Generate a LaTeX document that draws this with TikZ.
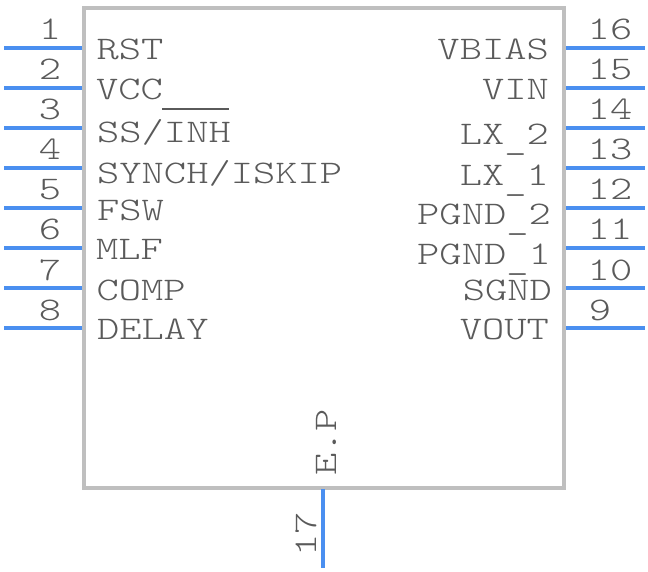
\documentclass[tikz,border=0pt]{standalone}
\usepackage{fontspec}
\newfontfamily\pinfont[FakeStretch=1.285]{Latin Modern Mono Light}
\definecolor{chipline}{HTML}{BFBFBF}
\definecolor{pinblue}{HTML}{4A8FF0}
\definecolor{labelgrey}{HTML}{5A5A5A}
\newcommand{\lowbar}{\lower4.5pt\hbox{\_}}
\tikzset{
  chipbox/.style={draw=chipline,line width=4pt,fill=white,inner sep=0pt,minimum width=480pt,minimum height=479pt},
  pinline/.style={draw=pinblue,line width=4pt},
  lab/.style={text=labelgrey,inner sep=0pt,font=\fontsize{33}{33}\pinfont},
  labl/.style={lab,anchor=base west},
  labr/.style={lab,anchor=base east},
  num/.style={lab,anchor=base},
  bar/.style={draw=labelgrey,line width=2pt}
}
\begin{document}
\begin{tikzpicture}[x=1pt,y=-1pt]
\useasboundingbox (0,0) rectangle (648,572);
\node[chipbox] (chip) at (324,248) {};
% left pins
\foreach \n/\y in {1/48,2/88,3/128,4/168,5/208,6/248,7/288,8/328}{
  \coordinate (a\n) at (82,\y);
  \coordinate (b\n) at (4,\y);
  \draw[pinline] (a\n) -- (b\n);
  \node[num] (n\n) at (50,\y-8) {\n};
}
% right pins
\foreach \n/\y in {16/48,15/88,14/128,13/168,12/208,11/248,10/288,9/328}{
  \coordinate (a\n) at (566,\y);
  \coordinate (b\n) at (645,\y);
  \draw[pinline] (a\n) -- (b\n);
}
\foreach \n/\y in {16/48,15/88,14/128,13/168,12/208,11/248,10/288}{
  \node[num] (n\n) at (610,\y-8) {\n};
}
\node[num] (n9) at (600,320) {9};
% bottom pin
\coordinate (a17) at (323,489);
\coordinate (b17) at (323,568);
\draw[pinline] (a17) -- (b17);
\node[lab,anchor=base west,rotate=90] (n17) at (316,557) {17};
\node[lab,anchor=base west,rotate=90] (ep) at (336,476) {E.P};
% left labels
\node[labl] (rst) at (96.5,60) {RST};
\node[labl] (vcc) at (96,100) {VCC};
\node[labl] (ss) at (97,143) {SS/INH};
\node[labl] (synch) at (97,184) {SYNCH/ISKIP};
\node[labl] (fsw) at (97,221) {FSW};
\node[labl] (mlf) at (96,259) {MLF};
\node[labl] (comp) at (96.5,300) {COMP};
\node[labl] (delay) at (97,339) {DELAY};
\draw[bar] (162,109.5) -- (229,109.5);
% right labels
\node[labr] (vbias) at (549,60) {VBIAS};
\node[labr] (vin) at (549,100) {VIN};
\node[labr] (lx2) at (549,145) {LX\lowbar 2};
\node[labr] (lx1) at (549,186) {LX\lowbar 1};
\node[labr] (pg2) at (551,225) {PGND\lowbar 2};
\node[labr] (pg1) at (551,265) {PGND\lowbar 1};
\node[labr] (sgnd) at (552,300) {SGND};
\node[labr] (vout) at (549,339) {VOUT};
\end{tikzpicture}
\end{document}
